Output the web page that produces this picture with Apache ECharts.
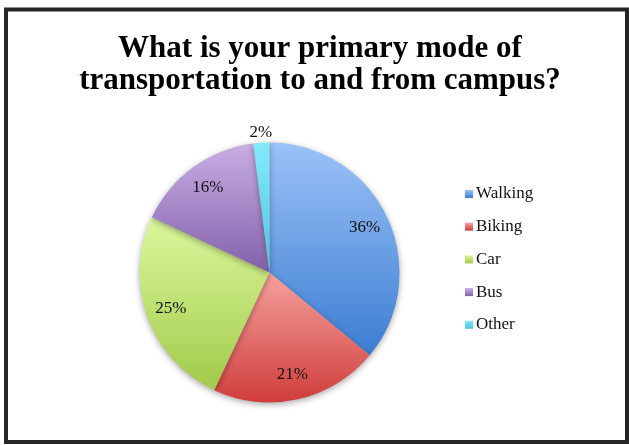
<!DOCTYPE html>
<html>
<head>
<meta charset="utf-8">
<script src="https://cdn.jsdelivr.net/npm/echarts@6/dist/echarts.min.js"></script>
<style>html,body{margin:0;padding:0;background:#fff;}#c{width:629px;height:445px;}</style>
</head>
<body>
<div id="c"></div>
<script>
const titleText = 'What is your primary mode of\ntransportation to and from campus?';
const categories = ['Walking', 'Biking', 'Car', 'Bus', 'Other'];
const values = [36, 21, 25, 16, 2];
const topColors = ['#9BC2F8', '#F6A29E', '#DAF89C', '#C8AEE4', '#85E9F8'];
const bottomColors = ['#3C7DD2', '#CF3D3B', '#A2CA4B', '#8360AB', '#4CC6DF'];

function grad(i) {
  return new echarts.graphic.LinearGradient(0, 0, 0, 1, [
    { offset: 0, color: topColors[i] },
    { offset: 1, color: bottomColors[i] }
  ]);
}

const pieData = categories.map((n, i) => ({ name: n, value: values[i], itemStyle: { color: grad(i) } }));
const labelData = categories.map((n, i) => ({
  name: n,
  value: values[i],
  label: i === 4 ? { position: 'outside' } : { position: 'inside' },
  labelLine: { show: false, length: 10, length2: 0 }
}));

const chart = echarts.init(document.getElementById('c'), null, { renderer: 'canvas' });
chart.setOption({
  animation: false,
  backgroundColor: '#ffffff',
  title: {
    text: titleText,
    left: 315,
    textAlign: 'center',
    top: 28,
    textStyle: {
      fontFamily: 'Liberation Serif',
      fontWeight: 'bold',
      fontSize: 31,
      lineHeight: 32,
      color: '#000'
    }
  },
  legend: {
    orient: 'vertical',
    left: 460,
    top: 180.5,
    icon: 'rect',
    itemWidth: 8,
    itemHeight: 8,
    itemGap: 15.7,
    data: categories,
    textStyle: { fontFamily: 'Liberation Serif', fontSize: 17, lineHeight: 17, color: '#111', padding: [0, 0, 0, -2] }
  },
  graphic: [{
    type: 'rect',
    shape: { x: 6, y: 9.5, width: 621, height: 432.5 },
    style: { fill: 'none', stroke: '#262626', lineWidth: 4 },
    silent: true
  }],
  series: [
    {
      type: 'pie',
      center: [269.5, 272.5],
      radius: [0, 130],
      startAngle: 90,
      clockwise: true,
      label: { show: false },
      labelLine: { show: false },
      itemStyle: { shadowBlur: 6, shadowColor: 'rgba(0,0,0,0.35)', shadowOffsetY: 2 },
      emphasis: { disabled: true },
      data: pieData
    },
    {
      type: 'pie',
      center: [269.5, 272.5],
      radius: [74, 130],
      startAngle: 90,
      clockwise: true,
      silent: true,
      itemStyle: { color: 'rgba(0,0,0,0)' },
      label: {
        show: true,
        formatter: '{d}%',
        fontFamily: 'Liberation Serif',
        fontSize: 17,
        color: '#111'
      },
      labelLayout: function (p) {
        if (p.dataIndex === 4) return { align: 'center', dx: 5 };
        return {};
      },
      emphasis: { disabled: true },
      legendHoverLink: false,
      data: labelData
    }
  ]
});
</script>
</body>
</html>
